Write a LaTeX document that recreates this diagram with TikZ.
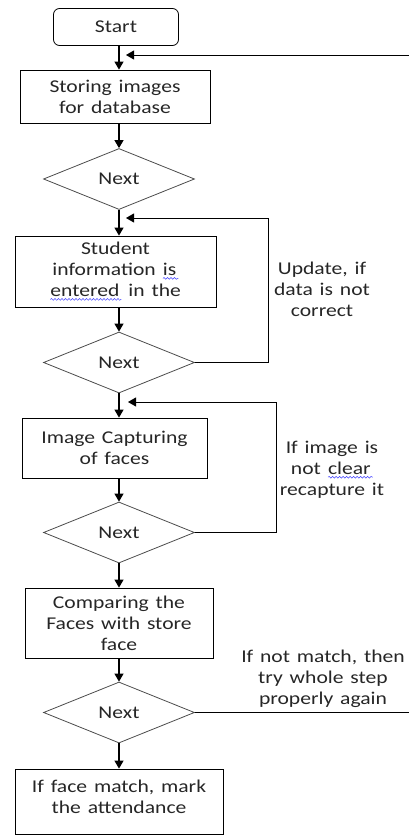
\documentclass[tikz,border=0pt]{standalone}
\usepackage{fontspec}
\setmainfont{Carlito}[FakeStretch=1.2,WordSpace=1.4]
\usetikzlibrary{shapes.geometric,arrows.meta,decorations.pathmorphing}

% word with a spelling mark under it
\newcommand\spell[1]{\tikz[baseline=(w.base)]{\node[shape=rectangle,draw=none,inner sep=0pt,outer sep=0pt,minimum size=0pt,text depth=,rounded corners=0pt] (w) {#1};
  \draw[spell] ([yshift=-2.5pt]w.base west) -- ([yshift=-2.5pt,xshift=2pt]w.base east);}}

\begin{document}
\begin{tikzpicture}
  [x=1pt,y=-1pt,
   every node/.style={font=\fontsize{18}{21}\selectfont,text=black!85,align=center},
   box/.style={draw,rectangle,inner sep=0pt,line width=0.8pt},
   nextbox/.style={draw=black!70,diamond,aspect=2.5,inner sep=0pt,line width=0.8pt,minimum width=151pt,minimum height=61pt},
   arr/.style={-{Triangle[width=9pt,length=8pt]},line width=1.2pt},
   fb/.style={-{Triangle[width=9pt,length=8pt]},line width=0.8pt},
   spell/.style={draw=blue!75,line width=0.5pt,decorate,decoration={snake,amplitude=0.9pt,segment length=3.5pt}}]
  \useasboundingbox (0,0) rectangle (409,836);
  \node[box,rounded corners=6pt,minimum width=125pt,minimum height=37pt] (n1) at (116,27) {Start};
  \node[box,minimum width=190pt,minimum height=53pt] (n2) at (115,96.5) {Storing images\\for database};
  \node[nextbox] (n3) at (119,179) {Next};
  \node[box,minimum width=201pt,minimum height=71pt] (n4) at (115.5,271.5) {Student\\information \spell{is}\\\spell{entered} in the};
  \node[nextbox] (n5) at (119,362.5) {Next};
  \node[box,minimum width=185pt,minimum height=60pt] (n6) at (114.5,448) {Image Capturing\\of faces};
  \node[nextbox] (n7) at (119,532.5) {Next};
  \node[box,minimum width=188pt,minimum height=70pt] (n8) at (119,623) {Comparing the\\Faces with store\\face};
  \node[nextbox] (n9) at (119,712.5) {Next};
  \node[box,minimum width=208pt,minimum height=65pt,text depth=9pt] (n10) at (119,801.5) {If face match, mark\\the attendance};
  \node (l1) at (322,289) {Update, if\\data is not\\correct};
  \node (l2) at (332,470) {If image is\\not \spell{clear}\\recapture it};
  \node (l3) at (323,679) {If not match, then\\try whole step\\properly again};
  \coordinate (c1) at (409,55);
  \coordinate (e1) at (126,55);
  \coordinate (c2) at (268,218);
  \coordinate (e2) at (126,218);
  \coordinate (c3) at (276,402);
  \coordinate (e3) at (128,402);
  \coordinate (c4) at (409,712.5);
  \foreach \from/\to in {n1/n2,n2/n3,n3/n4,n4/n5,n5/n6,n6/n7,n7/n8,n8/n9,n9/n10}
    \draw[arr] (\from.south -| n3) -- (\to.north -| n3);
  \draw[fb] (c1) -- (e1);
  \draw[fb] (n5.east) -| (c2) -- (e2);
  \draw[fb] (n7.east) -| (c3) -- (e3);
  \draw[line width=0.8pt] (n9.east) -- (c4);
\end{tikzpicture}
\end{document}
